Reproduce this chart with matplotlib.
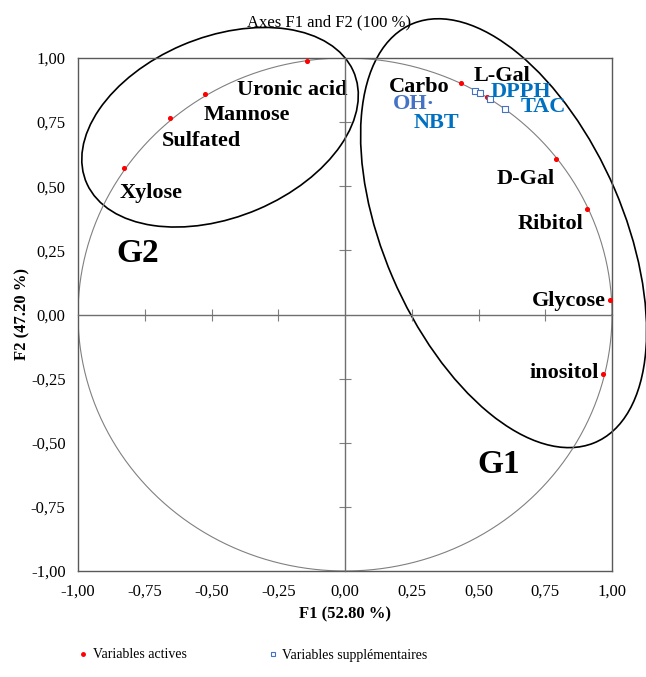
import matplotlib.pyplot as plt
import numpy as np
from matplotlib.patches import Ellipse
from matplotlib.lines import Line2D

plt.rcParams['font.family'] = ['Liberation Serif', 'DejaVu Serif']

# active variables (red dots)
active_names = ['Uronic acid', 'Mannose', 'Sulfated', 'Xylose', 'Carbo', 'L-Gal',
                'D-Gal', 'Ribitol', 'Glycose', 'inositol']
active_f1 = [-0.142, -0.524, -0.655, -0.828, 0.436, 0.531, 0.791, 0.906, 0.994, 0.968]
active_f2 = [0.990, 0.860, 0.766, 0.571, 0.901, 0.847, 0.607, 0.412, 0.058, -0.231]

# supplementary variables (blue squares)
supp_names = ['OH·', 'NBT', 'DPPH', 'TAC']
supp_f1 = [0.488, 0.504, 0.543, 0.600]
supp_f2 = [0.873, 0.865, 0.839, 0.800]

ticks = [-1.0, -0.75, -0.5, -0.25, 0.0, 0.25, 0.5, 0.75, 1.0]
tick_labels = ['-1,00', '-0,75', '-0,50', '-0,25', '0,00', '0,25', '0,50', '0,75', '1,00']

# label placement (x, y, ha)
active_label_pos = [(-0.406, 0.875, 'left'), (-0.531, 0.778, 'left'), (-0.687, 0.678, 'left'),
                    (-0.845, 0.475, 'left'), (0.163, 0.887, 'left'), (0.483, 0.93, 'left'),
                    (0.568, 0.527, 'left'), (0.645, 0.352, 'left'), (0.978, 0.053, 'right'),
                    (0.949, -0.229, 'right')]
supp_label_pos = [(0.181, 0.82), (0.256, 0.745), (0.547, 0.866), (0.659, 0.808)]
supp_label_colors = ['#4472C4', '#0070C0', '#0070C0', '#0070C0']

fig = plt.figure(figsize=(6.46, 6.77), dpi=100)
rect = [78 / 646, 1 - 571 / 677, 534 / 646, 513 / 677]
ax = fig.add_axes(rect)
ax.set_xlim(-1, 1)
ax.set_ylim(-1, 1)
for s in ax.spines.values():
    s.set_color('#595959')
    s.set_linewidth(1.0)
ax.set_xticks(ticks)
ax.set_xticklabels(tick_labels)
ax.set_yticks(ticks)
ax.set_yticklabels(tick_labels)
ax.tick_params(length=0, labelsize=12, pad=9)

# zero lines with crossing ticks on an overlay axes
ax0 = fig.add_axes(rect, facecolor='none')
ax0.set_xlim(-1, 1)
ax0.set_ylim(-1, 1)
ax0.spines['top'].set_visible(False)
ax0.spines['right'].set_visible(False)
ax0.spines['left'].set_position(('data', 0))
ax0.spines['bottom'].set_position(('data', 0))
for s in ['left', 'bottom']:
    ax0.spines[s].set_color('#6f6f6f')
    ax0.spines[s].set_linewidth(1.0)
ax0.set_xticks([t for t in ticks if t not in (-1.0, 0.0, 1.0)])
ax0.set_yticks([t for t in ticks if t not in (-1.0, 0.0, 1.0)])
ax0.tick_params(direction='inout', length=8, width=0.8, color='#7f7f7f',
                labelleft=False, labelbottom=False)

# correlation circle
th = np.linspace(0, 2 * np.pi, 400)
ax.plot(np.cos(th), np.sin(th), color='#808080', lw=0.8)

ax.scatter(active_f1, active_f2, s=7, color='red', zorder=3)
ax.scatter(supp_f1, supp_f2, s=14, marker='s', facecolors='white',
           edgecolors='#4472C4', linewidths=0.8, zorder=3)

for name, (x, y, ha) in zip(active_names, active_label_pos):
    ax.text(x, y, name, ha=ha, va='center', fontsize=16, fontweight='bold', color='black')
for name, (x, y), c in zip(supp_names, supp_label_pos, supp_label_colors):
    ax.text(x, y, name, ha='left', va='center', fontsize=16, fontweight='bold', color=c)

# groups
ax.add_patch(Ellipse((-0.468, 0.730), 1.09, 0.70, angle=24, fill=False,
                     edgecolor='black', lw=1.2, clip_on=False))
ax.add_patch(Ellipse((0.594, 0.317), 1.77, 0.90, angle=-67.6, fill=False,
                     edgecolor='black', lw=1.2, clip_on=False))
ax.text(-0.858, 0.236, 'G2', fontsize=24, fontweight='bold', va='center', ha='left')
ax.text(0.494, -0.585, 'G1', fontsize=24, fontweight='bold', va='center', ha='left')

ax.set_xlabel('F1 (52.80 %)', fontsize=12, fontweight='bold', labelpad=5)
ax.set_ylabel('F2 (47.20 %)', fontsize=12, fontweight='bold', labelpad=0)
fig.text(329 / 646, 1 - 22 / 677, 'Axes F1 and F2 (100 %)', ha='center', va='center', fontsize=12)

handles = [Line2D([], [], ls='none', marker='o', markersize=2.5, color='red'),
           Line2D([], [], ls='none', marker='s', markersize=3.5, markerfacecolor='white',
                  markeredgecolor='#4472C4', markeredgewidth=0.8)]
fig.legend(handles, ['Variables actives', 'Variables supplémentaires'], loc='center',
           bbox_to_anchor=(0.392, 1 - 655 / 677), ncol=2, frameon=False, fontsize=10,
           handlelength=0.6, handletextpad=0.4, columnspacing=5.9)

fig.savefig('out.png', dpi=100)
